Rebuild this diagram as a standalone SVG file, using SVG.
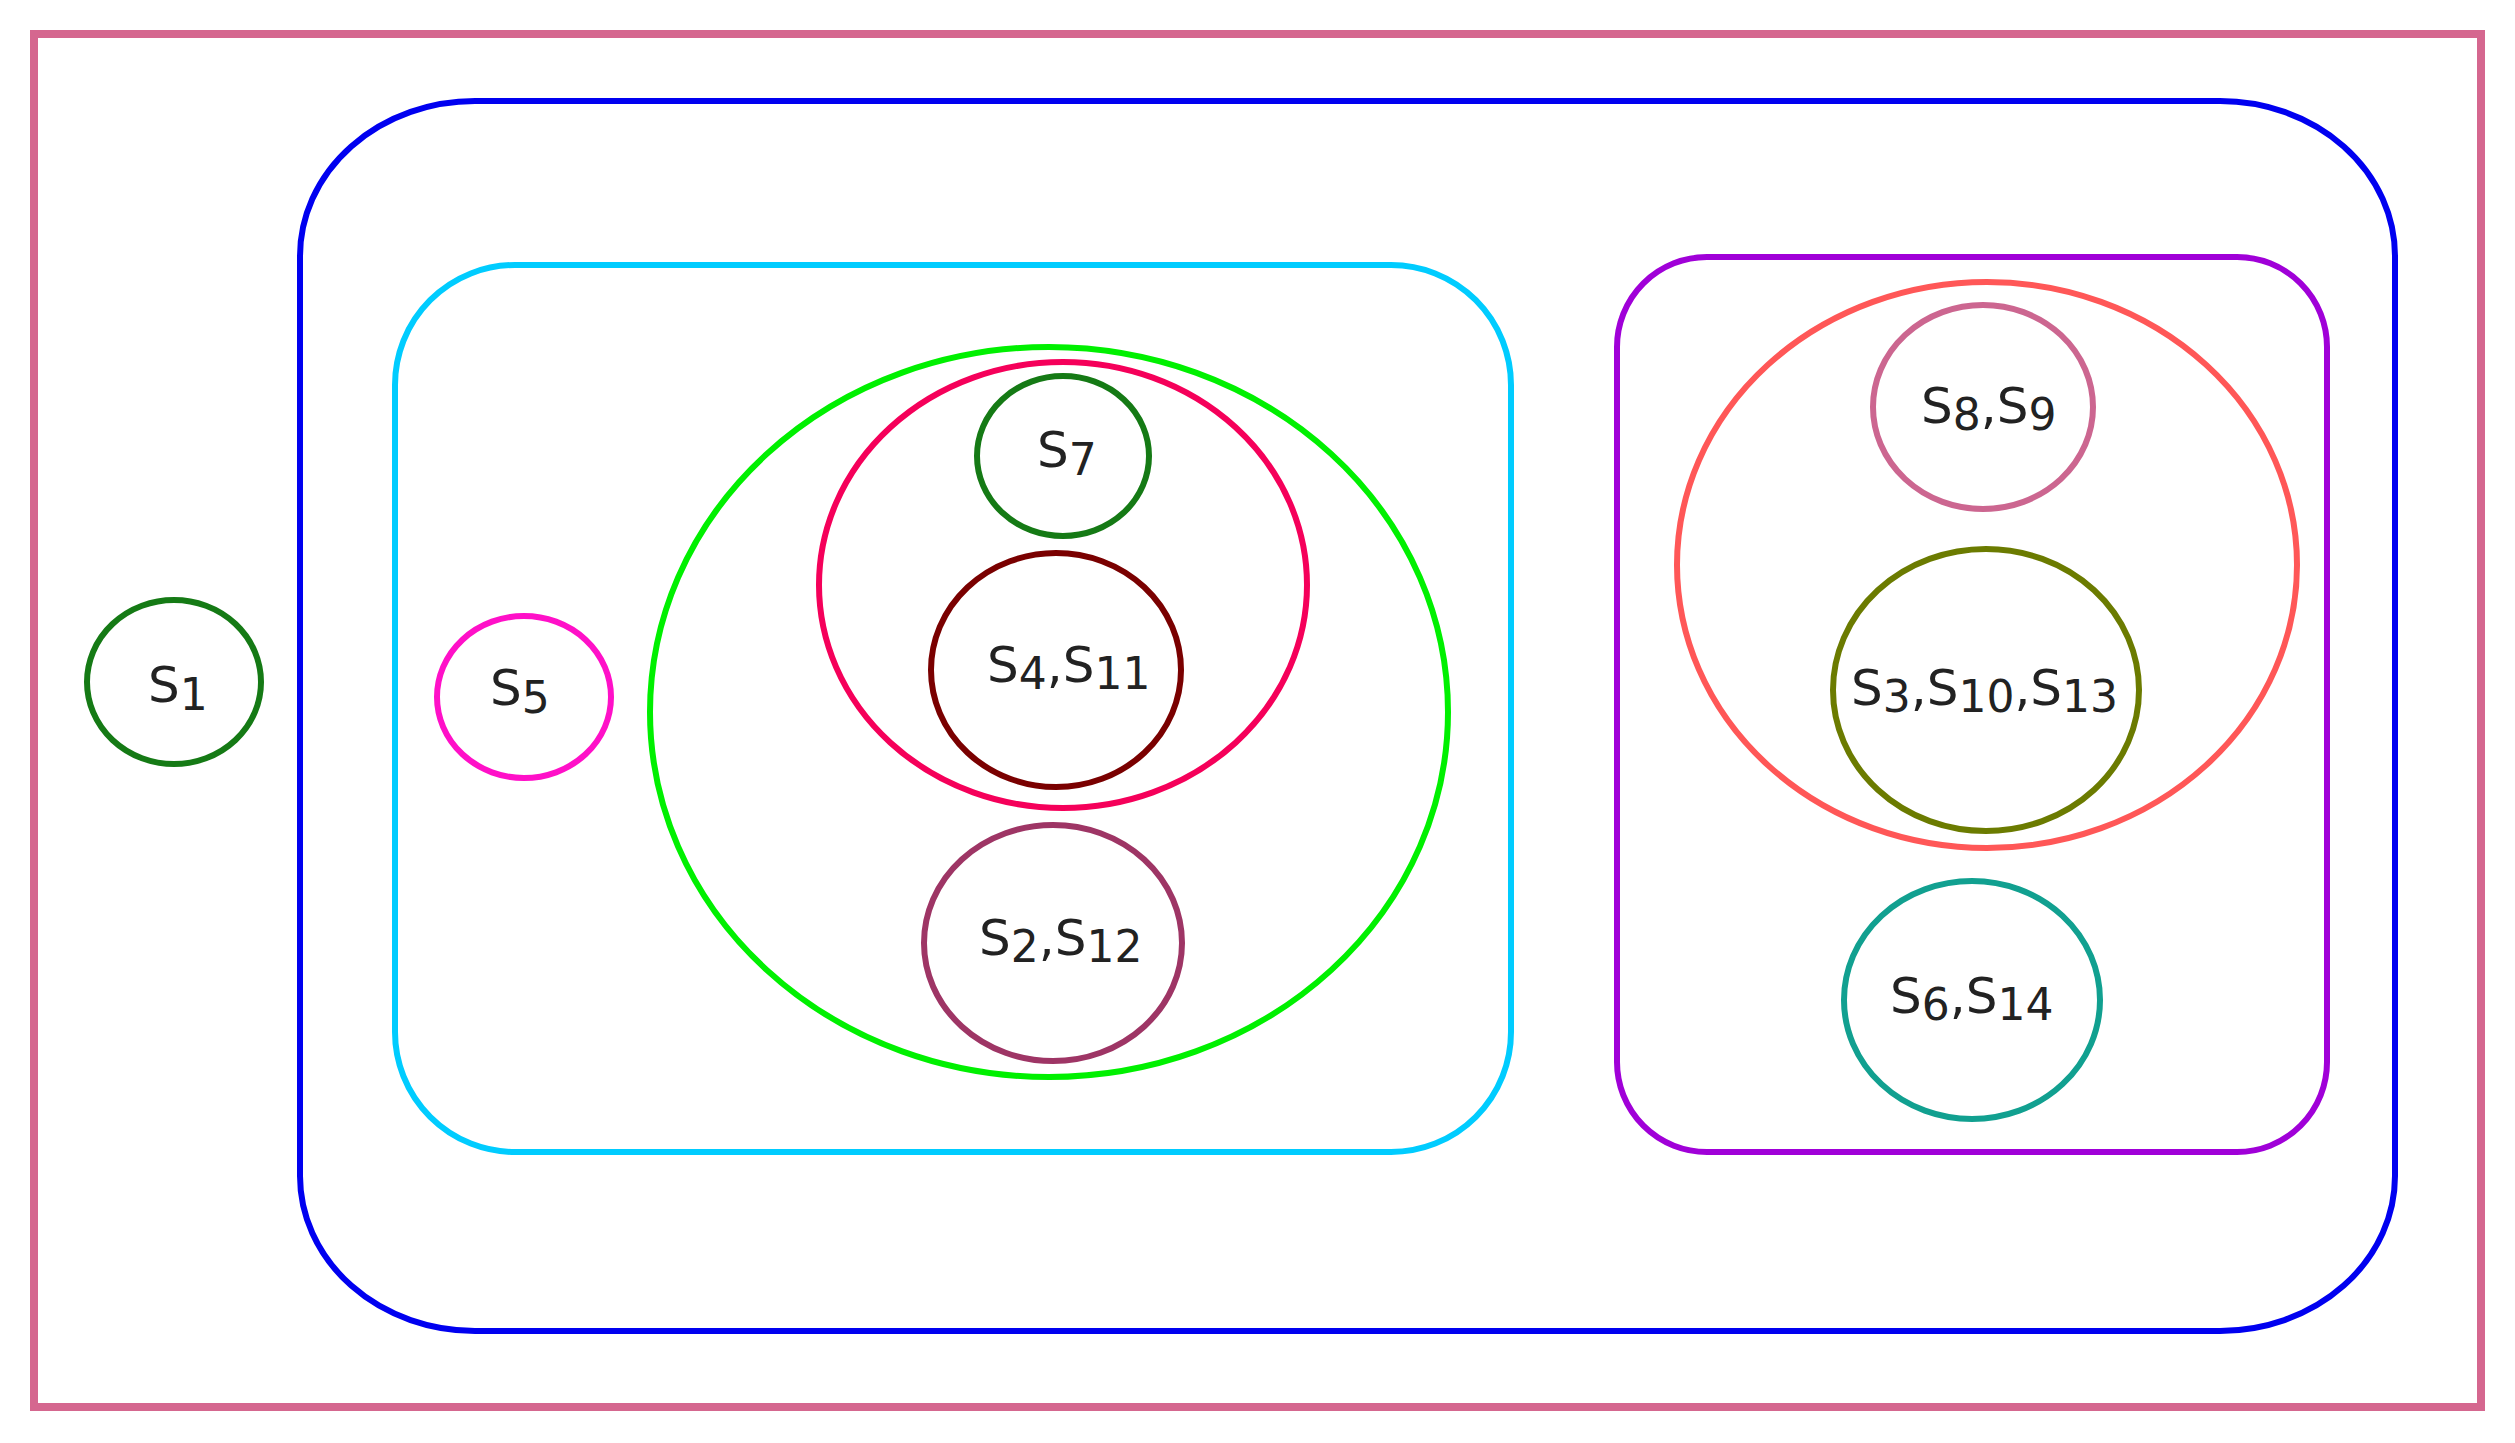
<svg xmlns="http://www.w3.org/2000/svg" width="2515" height="1443" viewBox="0 0 2515 1443">
<style>
.sh{fill:none;stroke-width:6}
.lb{font-family:"DejaVu Sans","Liberation Sans",sans-serif;font-size:50px;fill:#222}
.sub{font-size:44px}
</style>
<rect x="0" y="0" width="2515" height="1443" fill="#fff"/>
<g id="frame"><rect x="34" y="34" width="2447" height="1373" fill="none" stroke="#D5678F" stroke-width="8"/></g>
<g id="blue-set"><rect class="sh" x="300" y="101" width="2095" height="1230" rx="175" ry="155" stroke="#0000F0"/></g>
<g id="cyan-set"><rect class="sh" x="395" y="265" width="1116" height="887" rx="120" ry="120" stroke="#00CCFF"/></g>
<g id="purple-set"><rect class="sh" x="1617" y="257" width="710" height="895" rx="90" ry="90" stroke="#A000D8"/></g>
<g id="green-set"><ellipse class="sh" cx="1049" cy="712" rx="399" ry="365" stroke="#00F000" stroke-width="5"/></g>
<g id="crimson-set"><ellipse class="sh" cx="1063" cy="585" rx="244" ry="223" stroke="#F5005A"/></g>
<g id="red-set"><ellipse class="sh" cx="1987" cy="565" rx="310" ry="283" stroke="#FF5757"/></g>
<g id="n-s1"><ellipse class="sh" cx="174" cy="682" rx="87" ry="82" stroke="#157A15"/>
<text class="lb" x="148" y="702">S<tspan class="sub" dy="8">1</tspan></text></g>
<g id="n-s5"><ellipse class="sh" cx="524" cy="697" rx="87" ry="81" stroke="#FF10C8"/>
<text class="lb" x="490" y="705">S<tspan class="sub" dy="8">5</tspan></text></g>
<g id="n-s7"><ellipse class="sh" cx="1063" cy="456" rx="86" ry="80" stroke="#157A15"/>
<text class="lb" x="1037" y="467">S<tspan class="sub" dy="8">7</tspan></text></g>
<g id="n-s4s11"><ellipse class="sh" cx="1056" cy="670" rx="125" ry="117" stroke="#7A0000"/>
<text class="lb" x="987" y="682">S<tspan class="sub" dy="7">4</tspan><tspan dy="-7">,S</tspan><tspan class="sub" dy="7">11</tspan></text></g>
<g id="n-s2s12"><ellipse class="sh" cx="1053" cy="943" rx="129" ry="118" stroke="#9E3565"/>
<text class="lb" x="979" y="955">S<tspan class="sub" dy="7">2</tspan><tspan dy="-7">,S</tspan><tspan class="sub" dy="7">12</tspan></text></g>
<g id="n-s8s9"><ellipse class="sh" cx="1983" cy="407" rx="110" ry="102" stroke="#CC6690"/>
<text class="lb" x="1921" y="423">S<tspan class="sub" dy="7">8</tspan><tspan dy="-7">,S</tspan><tspan class="sub" dy="7">9</tspan></text></g>
<g id="n-s3s10s13"><ellipse class="sh" cx="1986" cy="690" rx="153" ry="141" stroke="#6B7B00"/>
<text class="lb" x="1851" y="705">S<tspan class="sub" dy="7">3</tspan><tspan dy="-7">,S</tspan><tspan class="sub" dy="7">10</tspan><tspan dy="-7">,S</tspan><tspan class="sub" dy="7">13</tspan></text></g>
<g id="n-s6s14"><ellipse class="sh" cx="1972" cy="1000" rx="128" ry="119" stroke="#11A090"/>
<text class="lb" x="1890" y="1013">S<tspan class="sub" dy="7">6</tspan><tspan dy="-7">,S</tspan><tspan class="sub" dy="7">14</tspan></text></g>
<g id="connectors"></g>
</svg>
